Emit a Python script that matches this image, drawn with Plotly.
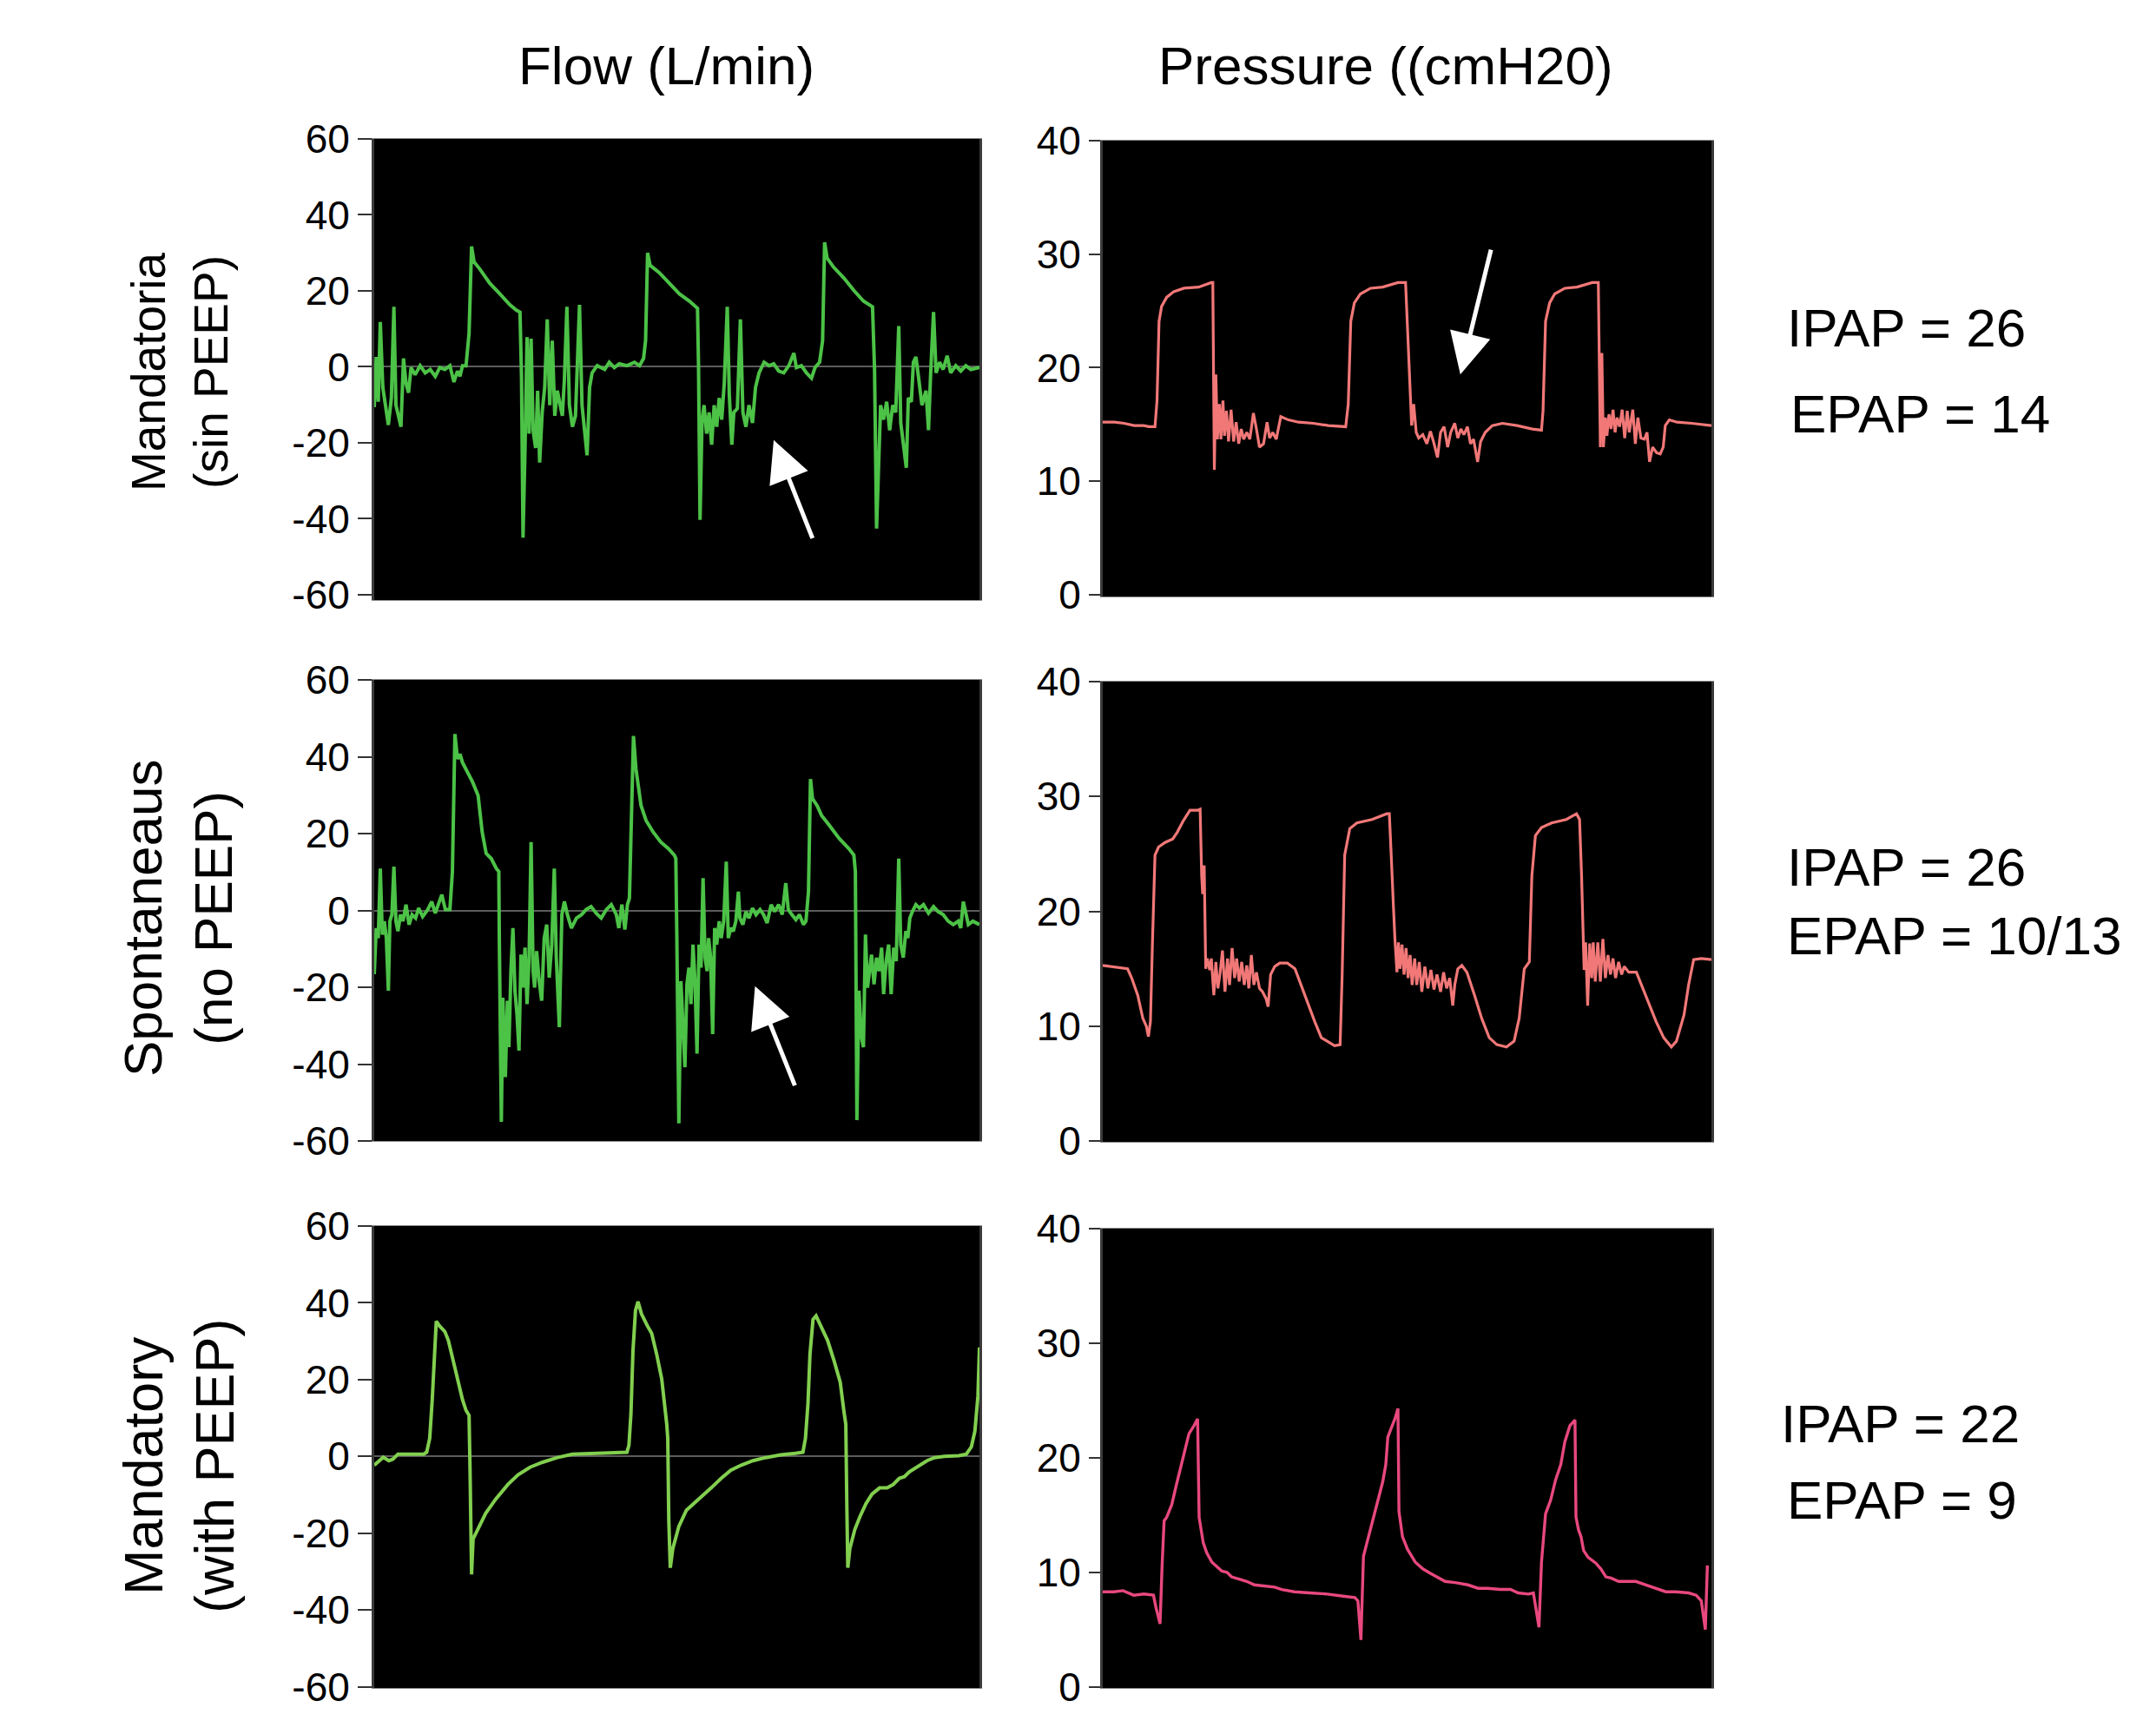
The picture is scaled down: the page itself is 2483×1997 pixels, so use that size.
import plotly.graph_objects as go

# time axis is ~12 s of ventilator sweep per panel (no labels on the x axis)
flow1_t = [0.00, 0.04, 0.08, 0.12, 0.17, 0.22, 0.28, 0.34, 0.39, 0.43,
           0.48, 0.53, 0.58, 0.63, 0.68, 0.73, 0.81, 0.91, 1.01, 1.11,
           1.21, 1.30, 1.40, 1.50, 1.58, 1.65, 1.70, 1.75, 1.82, 1.88,
           1.93, 1.98, 2.09, 2.29, 2.49, 2.69, 2.82, 2.89, 2.92, 2.95,
           2.99, 3.03, 3.07, 3.11, 3.15, 3.20, 3.24, 3.28, 3.33, 3.38,
           3.43, 3.48, 3.53, 3.58, 3.63, 3.68, 3.73, 3.77, 3.82, 3.87,
           3.93, 3.99, 4.07, 4.12, 4.17, 4.22, 4.27, 4.32, 4.42, 4.57,
           4.66, 4.76, 4.86, 5.01, 5.16, 5.26, 5.34, 5.38, 5.42, 5.47,
           5.65, 5.85, 6.05, 6.25, 6.36, 6.41, 6.43, 6.46, 6.50, 6.54,
           6.59, 6.64, 6.69, 6.74, 6.79, 6.84, 6.89, 6.94, 7.00, 7.04,
           7.09, 7.13, 7.20, 7.26, 7.31, 7.37, 7.43, 7.50, 7.56, 7.63,
           7.73, 7.83, 7.92, 8.02, 8.12, 8.22, 8.32, 8.37, 8.47, 8.57,
           8.67, 8.74, 8.83, 8.89, 8.93, 8.98, 9.11, 9.31, 9.51, 9.70,
           9.88, 9.92, 9.96, 10.00, 10.04, 10.10, 10.16, 10.22, 10.28, 10.34,
           10.40, 10.44, 10.49, 10.55, 10.59, 10.65, 10.69, 10.74, 10.79, 10.86,
           10.94, 10.99, 11.03, 11.09, 11.14, 11.21, 11.28, 11.36, 11.43, 11.53,
           11.63, 11.73, 11.83, 12.00]
flow1 = [-10.6, 2.6, -9.2, 11.8, -5.4, -10.1, -15.3, -8.2, 15.8, -10.1,
         -13.4, -15.8, 2.2, -4.4, -6.8, -0.2, -2.1, 0.3, -1.6, -0.7,
         -2.5, -0.2, -0.7, 0.3, -4.0, -1.1, -2.5, 0.3, 0.3, 8.8,
         31.7, 27.6, 25.8, 22.0, 19.2, 16.3, 14.9, 14.4, -2.5, -45.0,
         -21.4, 7.8, -17.6, 7.4, -16.7, -21.4, -6.3, -25.2, -12.0, -5.4,
         12.5, -10.1, 6.9, -12.9, -6.3, -9.2, -12.9, -3.5, 15.8, -10.1,
         -15.8, -12.9, 16.3, -10.1, -16.7, -23.3, -5.4, -1.6, 0.3, -0.7,
         1.2, -0.2, 0.8, 0.3, 1.2, 0.3, 2.2, 6.9, 30.0, 26.7,
         24.8, 22.0, 19.2, 17.3, 15.8, 15.4, 0.3, -40.3, -13.9, -10.1,
         -17.6, -12.0, -20.5, -10.1, -15.8, -8.2, -13.9, -4.4, 15.8, -7.3,
         -20.5, -12.0, -11.0, 12.5, -12.0, -15.8, -10.1, -14.8, -5.4, -1.6,
         1.2, 0.3, 0.8, -1.1, -1.6, 0.3, 3.6, -0.2, 0.3, -1.6,
         -3.0, -0.2, 1.2, 6.9, 32.8, 28.6, 26.2, 23.4, 20.1, 17.3,
         15.8, -0.7, -42.6, -28.0, -10.1, -13.9, -9.2, -16.7, -10.1, -12.0,
         10.7, -14.8, -19.5, -26.6, -8.2, -9.2, 1.2, 2.6, -2.5, -10.1,
         -6.3, -16.7, -2.5, 14.4, -1.6, 1.2, -0.7, 2.9, -1.6, 0.3,
         -1.1, 0.3, -0.7, -0.2]

press1_t = [0.00, 0.23, 0.42, 0.62, 0.81, 0.91, 1.03, 1.07, 1.11, 1.16,
            1.26, 1.40, 1.60, 1.89, 2.14, 2.17, 2.20, 2.23, 2.26, 2.30,
            2.33, 2.37, 2.40, 2.44, 2.48, 2.53, 2.58, 2.63, 2.68, 2.73,
            2.78, 2.84, 2.90, 2.97, 3.03, 3.09, 3.17, 3.24, 3.29, 3.35,
            3.42, 3.51, 3.66, 3.86, 4.15, 4.45, 4.79, 4.84, 4.89, 4.96,
            5.08, 5.28, 5.52, 5.82, 5.97, 6.04, 6.09, 6.13, 6.18, 6.23,
            6.31, 6.39, 6.46, 6.52, 6.60, 6.66, 6.73, 6.80, 6.86, 6.94,
            7.00, 7.06, 7.12, 7.19, 7.25, 7.31, 7.39, 7.45, 7.54, 7.68,
            7.88, 8.17, 8.47, 8.65, 8.68, 8.73, 8.81, 8.91, 9.11, 9.35,
            9.65, 9.77, 9.81, 9.84, 9.87, 9.91, 9.94, 9.98, 10.02, 10.06,
            10.10, 10.14, 10.19, 10.24, 10.29, 10.34, 10.38, 10.45, 10.50, 10.55,
            10.61, 10.68, 10.73, 10.78, 10.84, 10.92, 10.99, 11.05, 11.09, 11.17,
            11.32, 11.61, 12.00]
press1 = [15.2, 15.2, 15.1, 14.9, 14.9, 14.8, 14.8, 17.1, 24.1, 25.4,
          26.2, 26.7, 27.0, 27.1, 27.5, 27.5, 11.0, 19.4, 13.7, 16.8,
          13.7, 17.1, 14.0, 16.2, 13.5, 16.3, 13.5, 15.2, 13.3, 14.6,
          13.7, 14.3, 13.7, 16.0, 14.6, 13.0, 13.3, 15.2, 13.8, 14.3,
          13.7, 15.7, 15.4, 15.2, 15.1, 14.9, 14.8, 16.8, 24.1, 25.7,
          26.5, 27.0, 27.1, 27.5, 27.5, 19.4, 14.9, 16.8, 14.3, 13.8,
          14.1, 13.3, 14.4, 13.5, 12.1, 14.3, 14.8, 13.0, 14.3, 15.1,
          13.8, 14.6, 14.1, 14.8, 13.3, 13.7, 11.7, 13.5, 14.3, 14.9,
          15.1, 14.9, 14.6, 14.5, 16.2, 24.1, 25.7, 26.5, 27.0, 27.1,
          27.5, 27.5, 13.0, 21.3, 13.0, 15.6, 14.0, 15.9, 14.6, 16.3,
          14.3, 15.6, 14.8, 16.3, 13.8, 16.2, 14.3, 16.3, 13.3, 15.6,
          13.8, 13.7, 14.3, 11.7, 13.0, 12.5, 12.4, 13.0, 14.9, 15.4,
          15.2, 15.1, 14.9]

flow2_t = [0.00, 0.04, 0.08, 0.12, 0.16, 0.20, 0.24, 0.28, 0.31, 0.35,
           0.39, 0.43, 0.47, 0.52, 0.57, 0.63, 0.69, 0.75, 0.82, 0.88,
           0.96, 1.06, 1.14, 1.21, 1.28, 1.34, 1.41, 1.50, 1.55, 1.60,
           1.65, 1.70, 1.75, 1.85, 1.95, 2.06, 2.14, 2.22, 2.32, 2.42,
           2.47, 2.48, 2.52, 2.55, 2.60, 2.64, 2.67, 2.71, 2.75, 2.79,
           2.83, 2.87, 2.91, 2.95, 2.99, 3.03, 3.07, 3.11, 3.15, 3.18,
           3.22, 3.27, 3.32, 3.37, 3.42, 3.47, 3.52, 3.57, 3.61, 3.67,
           3.72, 3.77, 3.83, 3.91, 4.01, 4.11, 4.20, 4.30, 4.40, 4.50,
           4.60, 4.70, 4.80, 4.85, 4.91, 4.97, 5.02, 5.06, 5.10, 5.14,
           5.19, 5.29, 5.39, 5.53, 5.68, 5.83, 5.95, 5.98, 6.00, 6.04,
           6.08, 6.12, 6.16, 6.20, 6.24, 6.28, 6.32, 6.36, 6.40, 6.44,
           6.48, 6.52, 6.56, 6.60, 6.63, 6.67, 6.71, 6.75, 6.79, 6.84,
           6.88, 6.93, 6.98, 7.02, 7.07, 7.12, 7.17, 7.22, 7.25, 7.31,
           7.37, 7.43, 7.50, 7.57, 7.65, 7.72, 7.79, 7.87, 7.94, 8.02,
           8.09, 8.16, 8.21, 8.28, 8.36, 8.43, 8.51, 8.56, 8.61, 8.65,
           8.69, 8.78, 8.87, 9.02, 9.22, 9.41, 9.51, 9.54, 9.57, 9.61,
           9.66, 9.70, 9.74, 9.78, 9.82, 9.86, 9.91, 9.96, 10.01, 10.06,
           10.10, 10.15, 10.20, 10.25, 10.30, 10.35, 10.40, 10.44, 10.49, 10.54,
           10.58, 10.62, 10.67, 10.74, 10.81, 10.89, 10.99, 11.09, 11.18, 11.28,
           11.38, 11.48, 11.58, 11.63, 11.68, 11.73, 11.78, 11.87, 12.00]
flow2 = [-16.6, -4.6, -7.2, 10.9, -6.3, -2.8, -7.2, -20.9, -2.8, -1.1,
         11.4, -2.8, -5.4, -1.1, -2.8, 1.5, -3.7, -1.1, -2.0, 0.6,
         -1.6, 0.2, 2.3, -0.7, 1.9, 4.1, 0.2, 0.2, 10.1, 45.9,
         39.4, 40.7, 38.5, 35.9, 33.4, 29.9, 20.4, 14.8, 13.5, 10.9,
         10.1, -7.2, -55.0, -22.7, -43.4, -23.5, -35.6, -15.8, -4.6, -20.9,
         -27.0, -36.5, -11.5, -20.1, -9.7, -24.4, -12.3, 17.8, -15.8, -20.1,
         -10.6, -18.4, -23.5, -7.2, -3.7, -17.5, -8.9, 10.9, -12.3, -30.4,
         -1.1, 2.3, -1.1, -4.6, -2.0, -1.1, 0.2, 1.0, -0.7, -2.0,
         0.2, 1.5, -1.1, -4.6, 1.5, -5.0, 1.5, 3.2, 23.9, 45.4,
         36.8, 27.3, 23.4, 20.4, 17.8, 16.1, 14.4, 13.5, -7.2, -55.4,
         -18.4, -31.3, -40.8, -19.2, -14.9, -24.4, -8.9, -18.4, -37.3, -8.9,
         -14.9, 8.4, -12.3, -15.8, -7.2, -12.3, -32.2, -4.6, -8.9, -2.8,
         -7.2, -2.8, 12.7, -7.2, -4.6, -5.4, -2.8, 4.9, -2.0, -3.7,
         -0.3, -2.0, 0.6, -1.1, 0.2, -1.1, -3.3, 1.5, -0.3, 1.5,
         -1.1, 7.1, 0.2, -1.1, -2.4, -1.1, -3.7, -2.8, 4.9, 34.2,
         29.1, 27.3, 24.7, 22.2, 18.7, 16.1, 14.4, 10.1, -54.6, -20.9,
         -33.0, -35.6, -6.3, -20.1, -14.9, -11.5, -19.2, -12.3, -15.8, -9.7,
         -21.8, -13.2, -8.9, -21.8, -9.7, -13.2, 13.5, -8.9, -12.3, -5.4,
         -7.2, -2.0, -0.3, 1.5, 0.6, 1.5, -0.7, 1.0, -0.3, -1.1,
         -2.8, -3.7, -2.8, -4.6, 2.3, -1.1, -3.7, -2.8, -3.7]

press2_t = [0.00, 0.20, 0.49, 0.57, 0.69, 0.79, 0.86, 0.90, 0.94, 0.98,
            1.03, 1.10, 1.23, 1.38, 1.47, 1.59, 1.72, 1.87, 1.92, 1.95,
            1.97, 2.00, 2.03, 2.06, 2.11, 2.14, 2.19, 2.23, 2.27, 2.31,
            2.36, 2.41, 2.46, 2.50, 2.55, 2.60, 2.64, 2.69, 2.74, 2.79,
            2.84, 2.88, 2.93, 2.98, 3.03, 3.09, 3.15, 3.22, 3.26, 3.31,
            3.39, 3.49, 3.64, 3.79, 3.88, 4.03, 4.18, 4.31, 4.42, 4.57,
            4.68, 4.72, 4.77, 4.87, 5.01, 5.31, 5.60, 5.65, 5.69, 5.71,
            5.73, 5.76, 5.80, 5.83, 5.86, 5.90, 5.94, 5.98, 6.02, 6.06,
            6.10, 6.15, 6.19, 6.24, 6.29, 6.35, 6.41, 6.47, 6.53, 6.59,
            6.66, 6.72, 6.78, 6.84, 6.90, 6.94, 7.00, 7.08, 7.18, 7.33,
            7.47, 7.62, 7.77, 7.96, 8.11, 8.21, 8.31, 8.41, 8.46, 8.53,
            8.65, 8.85, 9.14, 9.34, 9.40, 9.44, 9.46, 9.49, 9.52, 9.56,
            9.60, 9.64, 9.67, 9.71, 9.76, 9.81, 9.86, 9.91, 9.96, 10.01,
            10.06, 10.11, 10.17, 10.23, 10.28, 10.37, 10.52, 10.62, 10.77, 10.91,
            11.06, 11.21, 11.31, 11.46, 11.55, 11.65, 11.80, 12.00]
press2 = [15.3, 15.2, 15.0, 14.2, 12.7, 10.7, 10.0, 9.1, 10.4, 17.3,
          24.9, 25.6, 26.0, 26.3, 26.9, 27.9, 28.8, 28.8, 28.9, 23.1,
          21.5, 24.0, 15.0, 15.9, 14.9, 15.9, 12.7, 15.6, 13.3, 14.5,
          16.6, 13.0, 15.9, 13.6, 16.8, 14.2, 15.9, 13.9, 15.6, 13.6,
          15.3, 13.3, 16.2, 13.6, 14.7, 13.3, 13.0, 12.4, 11.7, 14.5,
          15.2, 15.5, 15.5, 15.0, 13.9, 12.1, 10.4, 9.0, 8.7, 8.3,
          8.4, 14.5, 24.9, 27.2, 27.7, 28.0, 28.5, 28.5, 24.6, 22.0,
          20.5, 17.6, 14.7, 17.3, 15.0, 17.1, 14.5, 16.8, 14.2, 16.2,
          13.6, 15.9, 13.6, 15.6, 13.0, 15.2, 13.3, 14.9, 13.2, 14.5,
          13.0, 14.7, 13.3, 14.2, 11.8, 13.6, 15.0, 15.3, 14.7, 12.7,
          10.7, 9.0, 8.4, 8.2, 8.7, 10.7, 15.0, 15.6, 23.1, 26.6,
          27.3, 27.7, 28.0, 28.5, 28.0, 23.1, 20.2, 14.9, 17.3, 11.8,
          17.2, 14.2, 17.3, 13.9, 17.3, 13.9, 17.6, 14.2, 16.2, 14.5,
          15.9, 14.2, 15.6, 14.5, 15.2, 14.7, 14.7, 13.6, 12.1, 10.4,
          9.0, 8.2, 8.7, 11.0, 13.6, 15.8, 15.9, 15.8]

flow3_t = [0.00, 0.10, 0.18, 0.29, 0.37, 0.47, 0.59, 0.79, 0.98, 1.04,
           1.10, 1.15, 1.19, 1.23, 1.30, 1.40, 1.47, 1.57, 1.67, 1.75,
           1.82, 1.88, 1.90, 1.93, 1.96, 2.06, 2.21, 2.41, 2.65, 2.85,
           3.09, 3.34, 3.63, 3.93, 4.32, 4.72, 5.01, 5.05, 5.09, 5.13,
           5.18, 5.23, 5.30, 5.42, 5.50, 5.60, 5.70, 5.80, 5.82, 5.84,
           5.87, 5.92, 6.04, 6.19, 6.34, 6.48, 6.68, 6.88, 7.07, 7.27,
           7.51, 7.76, 8.06, 8.35, 8.50, 8.55, 8.60, 8.64, 8.70, 8.76,
           8.86, 8.99, 9.12, 9.24, 9.31, 9.35, 9.37, 9.39, 9.43, 9.53,
           9.63, 9.75, 9.87, 10.02, 10.17, 10.29, 10.41, 10.51, 10.61, 10.71,
           10.83, 10.96, 11.11, 11.30, 11.59, 11.74, 11.84, 11.91, 11.97, 12.00]
flow3 = [-2.3, -1.1, -0.2, -1.1, -0.7, 0.6, 0.6, 0.6, 0.6, 1.1,
         4.7, 14.8, 27.5, 35.2, 33.9, 32.5, 30.2, 24.8, 19.3, 14.8,
         12.0, 10.7, -4.0, -30.7, -21.5, -19.0, -14.8, -11.1, -7.3, -4.8,
         -2.8, -1.5, -0.3, 0.6, 0.8, 0.9, 1.1, 2.9, 11.1, 27.5,
         38.0, 40.3, 37.1, 33.9, 32.1, 26.6, 20.2, 8.4, 4.7, -16.5,
         -29.0, -24.0, -18.2, -14.0, -12.3, -10.7, -8.2, -5.7, -3.6, -2.3,
         -1.1, -0.3, 0.4, 0.8, 1.1, 4.7, 13.8, 26.6, 35.7, 36.6,
         33.9, 30.2, 24.8, 19.3, 12.0, 8.4, -12.3, -29.0, -24.0, -19.0,
         -15.7, -12.3, -9.8, -8.2, -8.2, -7.3, -5.7, -5.3, -4.0, -3.2,
         -2.3, -1.1, -0.3, 0.0, 0.2, 0.6, 2.5, 6.6, 15.7, 28.4]

press3_t = [0.00, 0.22, 0.40, 0.50, 0.61, 0.81, 1.00, 1.05, 1.13, 1.17,
            1.21, 1.26, 1.36, 1.45, 1.52, 1.60, 1.70, 1.80, 1.87, 1.90,
            1.98, 2.05, 2.15, 2.25, 2.35, 2.45, 2.54, 2.69, 2.84, 2.99,
            3.19, 3.39, 3.53, 3.78, 4.08, 4.43, 4.77, 4.97, 5.03, 5.09,
            5.14, 5.22, 5.32, 5.42, 5.52, 5.58, 5.62, 5.68, 5.76, 5.82,
            5.84, 5.91, 6.01, 6.16, 6.31, 6.46, 6.61, 6.75, 6.95, 7.20,
            7.40, 7.59, 7.84, 8.04, 8.19, 8.39, 8.49, 8.53, 8.60, 8.65,
            8.73, 8.83, 8.93, 9.03, 9.11, 9.21, 9.31, 9.33, 9.38, 9.43,
            9.48, 9.57, 9.72, 9.82, 9.92, 10.02, 10.17, 10.32, 10.51, 10.71,
            10.91, 11.10, 11.30, 11.55, 11.70, 11.80, 11.88, 11.92]
press3 = [8.3, 8.3, 8.4, 8.2, 8.0, 8.1, 8.0, 6.9, 5.5, 10.6,
          14.5, 14.8, 15.9, 17.6, 18.9, 20.3, 22.1, 22.8, 23.4, 14.8,
          12.6, 11.7, 10.9, 10.5, 10.1, 10.0, 9.6, 9.4, 9.2, 8.9,
          8.8, 8.7, 8.5, 8.3, 8.2, 8.1, 7.9, 7.8, 7.5, 4.1,
          11.4, 12.8, 14.5, 16.2, 17.9, 19.4, 21.8, 22.5, 23.4, 24.3,
          15.3, 13.1, 12.0, 10.9, 10.3, 9.9, 9.5, 9.2, 9.1, 8.9,
          8.6, 8.6, 8.5, 8.5, 8.2, 8.1, 8.2, 7.2, 5.2, 10.9,
          15.1, 16.3, 18.1, 19.4, 21.4, 22.8, 23.3, 14.8, 13.7, 13.1,
          11.9, 11.3, 10.8, 10.3, 9.6, 9.5, 9.2, 9.2, 9.2, 8.9,
          8.6, 8.3, 8.3, 8.2, 8.0, 7.5, 5.0, 10.6]

col_titles = ["Flow (L/min)", "Pressure ((cmH20)"]
row_labels = ["Mandatoria<br>(sin PEEP)", "Spontaneaus<br>(no PEEP)", "Mandatory<br>(with PEEP)"]
settings = [["IPAP = 26", "EPAP = 14"], ["IPAP = 26", "EPAP = 10/13"], ["IPAP = 22", "EPAP = 9"]]
flow_ticks = [-60, -40, -20, 0, 20, 40, 60]
press_ticks = [0, 10, 20, 30, 40]

FONT = "Liberation Sans, Arial, Helvetica, sans-serif"
W, H = 2483, 1997

def px_x(p):
    return p / W

def px_y(p):
    return 1 - p / H

fig = go.Figure()

traces = [
    (flow1_t, flow1, "#4cc247", 4.0),
    (press1_t, press1, "#f27878", 3.2),
    (flow2_t, flow2, "#4cc247", 4.0),
    (press2_t, press2, "#f27878", 3.2),
    (flow3_t, flow3, "#82cf4f", 4.0),
    (press3_t, press3, "#e8487e", 3.4),
]
for i, (t, v, c, w) in enumerate(traces):
    n = "" if i == 0 else str(i + 1)
    fig.add_trace(go.Scatter(x=t, y=v, mode="lines", line=dict(color=c, width=w),
                             xaxis="x" + n, yaxis="y" + n, showlegend=False, hoverinfo="skip"))

# panel pixel boxes: (left, right, top, bottom) and y range
flow_x = (431, 1128)
press_x = (1270, 1971)
panels = [
    (flow_x, (160, 691), [-61.4, 60], flow_ticks),
    (press_x, (162, 687), [-0.16, 40], press_ticks),
    (flow_x, (783, 1314), [-60, 60], flow_ticks),
    (press_x, (785, 1315), [-0.06, 40], press_ticks),
    (flow_x, (1412, 1944), [-60.3, 60], flow_ticks),
    (press_x, (1415, 1944), [-0.1, 40], press_ticks),
]

layout = {}
for i, (xs, ys, rng, ticks) in enumerate(panels):
    n = "" if i == 0 else str(i + 1)
    is_flow = i % 2 == 0
    layout["xaxis" + n] = dict(domain=[px_x(xs[0]), px_x(xs[1])], range=[0, 12], anchor="y" + n,
                               showticklabels=False, ticks="", showgrid=False, zeroline=False,
                               showline=True, linecolor="#8a8a8a", linewidth=1, mirror=True,
                               automargin=False)
    layout["yaxis" + n] = dict(domain=[px_y(ys[1]), px_y(ys[0])], range=rng, anchor="x" + n,
                               tickmode="array", tickvals=ticks, ticktext=[str(k) for k in ticks],
                               ticks="outside", ticklen=16 if is_flow else 13, tickwidth=2,
                               tickcolor="#333333", showgrid=False,
                               zeroline=is_flow, zerolinecolor="#5c5c5c", zerolinewidth=2,
                               showline=True, linecolor="#3a3a3a", linewidth=3, mirror=True,
                               automargin=False,
                               tickfont=dict(family=FONT, size=46, color="black"))
fig.update_layout(**layout)

ann = []
# column titles
for title, cx in zip(col_titles, [767, 1596]):
    ann.append(dict(text=title, x=px_x(cx), y=px_y(75), xref="paper", yref="paper",
                    xanchor="center", yanchor="middle", showarrow=False,
                    font=dict(family=FONT, size=62, color="black")))
# row labels (rotated)
for lab, (cx, cy, fs) in zip(row_labels, [(207, 428, 55), (205, 1058, 62), (206, 1688, 63)]):
    ann.append(dict(text=lab, x=px_x(cx), y=px_y(cy), xref="paper", yref="paper",
                    xanchor="center", yanchor="middle", showarrow=False, textangle=-90,
                    font=dict(family=FONT, size=fs, color="black")))
# IPAP / EPAP settings
pos = [[(2056, 377), (2060, 477)], [(2056, 998), (2056, 1077)], [(2049, 1639), (2056, 1727)]]
for texts, pp in zip(settings, pos):
    for txt, (lx, ly) in zip(texts, pp):
        ann.append(dict(text=txt, x=px_x(lx), y=px_y(ly), xref="paper", yref="paper",
                        xanchor="left", yanchor="middle", showarrow=False,
                        font=dict(family=FONT, size=62, color="black")))
# white arrows pointing at the asynchrony events
arrows = [("x", "y", 7.92, -19.3, 8.70, -45.5),
          ("x2", "y2", 7.05, 19.4, 7.66, 30.5),
          ("x3", "y3", 7.55, -19.7, 8.35, -45.9)]
for xr, yr, x0, y0, x1, y1 in arrows:
    ann.append(dict(text="", x=x0, y=y0, ax=x1, ay=y1, xref=xr, yref=yr, axref=xr, ayref=yr,
                    showarrow=True, arrowhead=2, arrowsize=1.9, arrowwidth=5,
                    arrowcolor="white", standoff=0))

fig.update_layout(width=W, height=H, margin=dict(l=0, r=0, t=0, b=0, pad=0, autoexpand=False),
                  paper_bgcolor="white", plot_bgcolor="black", annotations=ann,
                  font=dict(family=FONT, color="black"))

# the page body has a default 8px margin; drop it so the figure starts at the window corner
fig.write_html("out.html", config={"displayModeBar": False},
               post_script="document.body.style.margin='0px';")
